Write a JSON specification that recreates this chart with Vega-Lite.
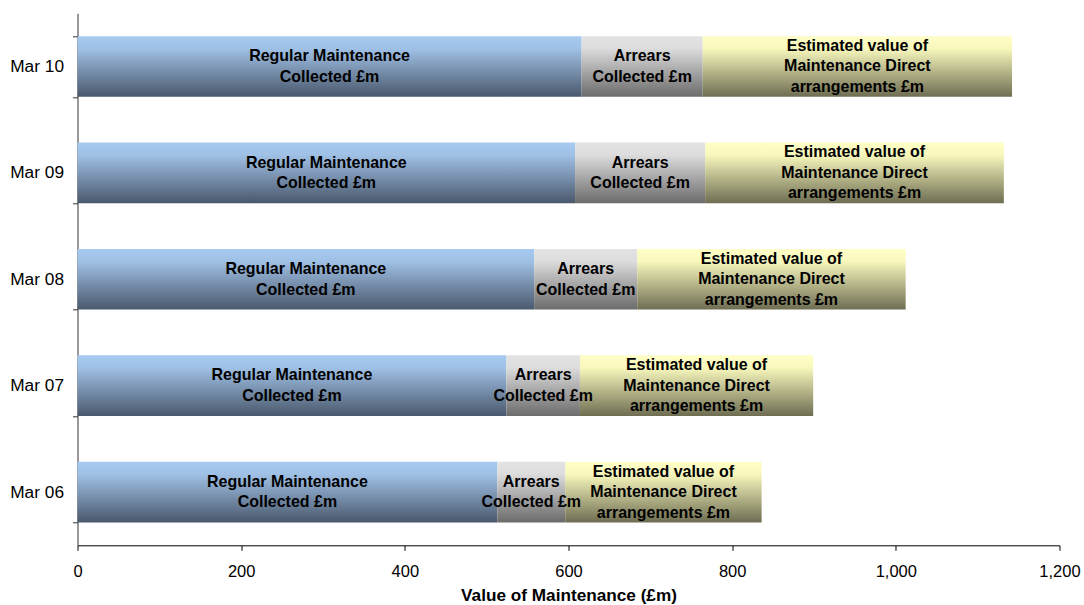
{
  "$schema": "https://vega.github.io/schema/vega-lite/v6.json",
  "autosize": "none",
  "width": 982,
  "height": 532,
  "padding": {"left": 77.5, "top": 13.3, "right": 24, "bottom": 60},
  "background": "white",
  "config": {"view": {"stroke": null}, "font": "Liberation Sans"},
  "data": {"values": [
    {"year": "Mar 10", "series": "Regular", "order": 1, "value": 616, "label": "Regular Maintenance\nCollected £m"},
    {"year": "Mar 10", "series": "Arrears", "order": 2, "value": 148, "label": "Arrears\nCollected £m"},
    {"year": "Mar 10", "series": "Direct", "order": 3, "value": 378, "label": "Estimated value of\nMaintenance Direct\narrangements £m"},
    {"year": "Mar 09", "series": "Regular", "order": 1, "value": 608, "label": "Regular Maintenance\nCollected £m"},
    {"year": "Mar 09", "series": "Arrears", "order": 2, "value": 159, "label": "Arrears\nCollected £m"},
    {"year": "Mar 09", "series": "Direct", "order": 3, "value": 365, "label": "Estimated value of\nMaintenance Direct\narrangements £m"},
    {"year": "Mar 08", "series": "Regular", "order": 1, "value": 558, "label": "Regular Maintenance\nCollected £m"},
    {"year": "Mar 08", "series": "Arrears", "order": 2, "value": 126, "label": "Arrears\nCollected £m"},
    {"year": "Mar 08", "series": "Direct", "order": 3, "value": 328, "label": "Estimated value of\nMaintenance Direct\narrangements £m"},
    {"year": "Mar 07", "series": "Regular", "order": 1, "value": 524, "label": "Regular Maintenance\nCollected £m"},
    {"year": "Mar 07", "series": "Arrears", "order": 2, "value": 90, "label": "Arrears\nCollected £m"},
    {"year": "Mar 07", "series": "Direct", "order": 3, "value": 285, "label": "Estimated value of\nMaintenance Direct\narrangements £m"},
    {"year": "Mar 06", "series": "Regular", "order": 1, "value": 513, "label": "Regular Maintenance\nCollected £m"},
    {"year": "Mar 06", "series": "Arrears", "order": 2, "value": 83, "label": "Arrears\nCollected £m"},
    {"year": "Mar 06", "series": "Direct", "order": 3, "value": 240, "label": "Estimated value of\nMaintenance Direct\narrangements £m"}
  ]},
  "encoding": {
    "y": {
      "field": "year", "type": "nominal",
      "scale": {"domain": ["Mar 10", "Mar 09", "Mar 08", "Mar 07", "Mar 06"], "paddingInner": 0.43, "paddingOuter": 0.215},
      "axis": {
        "title": null, "tickBand": "extent", "tickSize": 5, "tickColor": "#333333",
        "domainColor": "#333333", "labelFontSize": 17.3, "labelColor": "#000000",
        "labelPadding": 9, "labelFont": "Liberation Sans"
      }
    },
    "x": {
      "field": "value", "type": "quantitative", "stack": "zero",
      "scale": {"domain": [0, 1200]},
      "axis": {
        "title": "Value of Maintenance (£m)", "values": [0, 200, 400, 600, 800, 1000, 1200],
        "format": ",.0f", "grid": false, "tickSize": 5, "tickColor": "#000000", "domainColor": "#000000",
        "labelFontSize": 16.5, "labelColor": "#000000", "labelPadding": 13, "labelFont": "Liberation Sans",
        "labelFlush": false, "labelOverlap": false,
        "titleFontSize": 17.2, "titleFontWeight": "bold", "titleColor": "#000000", "titlePadding": 7,
        "titleFont": "Liberation Sans"
      }
    },
    "order": {"field": "order", "type": "quantitative"},
    "detail": {"field": "series", "type": "nominal"}
  },
  "layer": [
    {
      "mark": {"type": "bar"},
      "encoding": {
        "fill": {
          "condition": [
            {"test": "datum.series === 'Regular'", "value": {"gradient": "linear", "x1": 0, "y1": 0, "x2": 0, "y2": 1, "stops": [{"offset": 0, "color": "#a7caf0"}, {"offset": 0.2, "color": "#a0c1e6"}, {"offset": 1, "color": "#4a586c"}]}},
            {"test": "datum.series === 'Arrears'", "value": {"gradient": "linear", "x1": 0, "y1": 0, "x2": 0, "y2": 1, "stops": [{"offset": 0, "color": "#e3e3e3"}, {"offset": 0.2, "color": "#dddddd"}, {"offset": 1, "color": "#6b6b6b"}]}}
          ],
          "value": {"gradient": "linear", "x1": 0, "y1": 0, "x2": 0, "y2": 1, "stops": [{"offset": 0, "color": "#fefec6"}, {"offset": 0.2, "color": "#f8f8bd"}, {"offset": 1, "color": "#6e6d52"}]}
        }
      }
    },
    {
      "mark": {"type": "text", "lineBreak": "\n", "fontWeight": "bold", "fontSize": 16, "lineHeight": 20.5, "align": "center", "baseline": "middle", "dy": -10.25, "color": "#000000", "font": "Liberation Sans"},
      "encoding": {
        "x": {"field": "value", "type": "quantitative", "stack": "zero", "bandPosition": 0.5},
        "text": {"condition": {"test": "datum.series !== 'Direct'", "field": "label"}, "value": ""}
      }
    },
    {
      "mark": {"type": "text", "lineBreak": "\n", "fontWeight": "bold", "fontSize": 16, "lineHeight": 20.5, "align": "center", "baseline": "middle", "dy": -20.5, "color": "#000000", "font": "Liberation Sans"},
      "encoding": {
        "x": {"field": "value", "type": "quantitative", "stack": "zero", "bandPosition": 0.5},
        "text": {"condition": {"test": "datum.series === 'Direct'", "field": "label"}, "value": ""}
      }
    }
  ]
}
